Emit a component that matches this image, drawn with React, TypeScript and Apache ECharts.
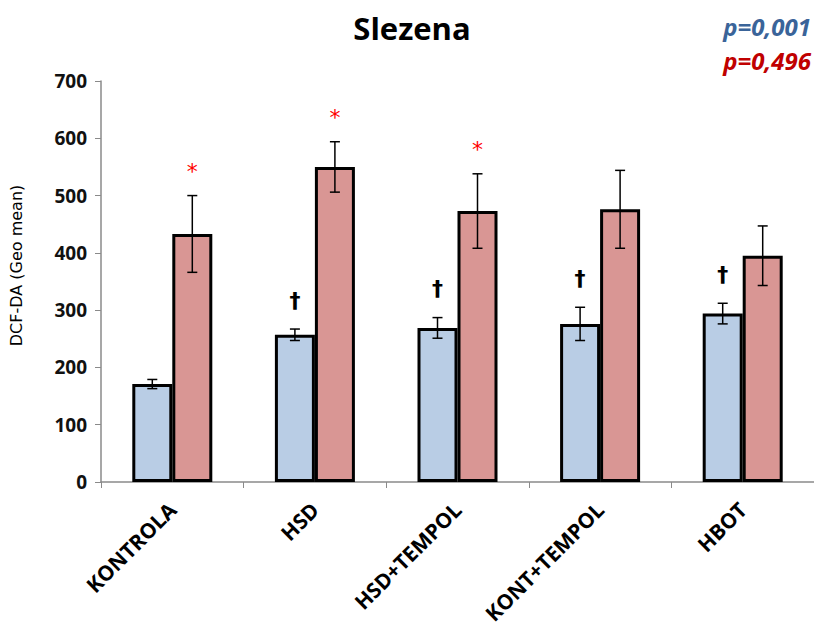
import React, { useEffect, useRef } from "react";
import * as echarts from "echarts";

const categories = ["KONTROLA", "HSD", "HSD+TEMPOL", "KONT+TEMPOL", "HBOT"];
const blueValues = [171, 257, 269, 276, 294];
const blueErrors = [8, 10, 18, 29, 18];
const redValues = [433, 550, 473, 476, 395];
const redErrors = [67, 44, 65, 68, 52];
const blueMarks = ["", "†", "†", "†", "†"];
const redMarks = ["*", "*", "*", "", ""];
const yTicks = [0, 100, 200, 300, 400, 500, 600, 700];

export default function App() {
  const ref = useRef<HTMLDivElement>(null);
  useEffect(() => {
    document.body.style.margin = "0";
    const chart = echarts.init(ref.current!, undefined, { renderer: "svg" });
    const errData: any[] = [];
    categories.forEach((_, i) => {
      errData.push([i, blueValues[i], blueErrors[i], -1, blueMarks[i]]);
      errData.push([i, redValues[i], redErrors[i], 1, redMarks[i]]);
    });
    const barW = 40;
    chart.setOption({
      animation: false,
      title: {
        text: "Slezena",
        left: 407,
        top: 7,
        textAlign: "center",
        textStyle: { fontFamily: "Open Sans", fontWeight: "bold", fontSize: 31, color: "#000" },
      },
      graphic: [
        {
          type: "text",
          right: 3,
          top: 14,
          style: { text: "p=0,001", fontFamily: "Open Sans", fontStyle: "italic", fontWeight: "bold", fontSize: 24, fill: "#3A6499" },
        },
        {
          type: "text",
          right: 3,
          top: 48,
          style: { text: "p=0,496", fontFamily: "Open Sans", fontStyle: "italic", fontWeight: "bold", fontSize: 24, fill: "#C00000" },
        },
      ],
      grid: { left: 99, top: 81, width: 720, height: 401 },
      xAxis: {
        type: "category",
        data: categories,
        axisLine: { lineStyle: { color: "#8a8a8a", width: 1.5 } },
        axisTick: { show: true, length: 6, lineStyle: { color: "#8a8a8a" } },
        axisLabel: {
          rotate: 45,
          margin: 24,
          interval: 0,
          fontFamily: "Open Sans",
          fontWeight: "bold",
          fontSize: 21,
          color: "#000",
        },
      },
      yAxis: {
        type: "value",
        min: 0,
        max: 700,
        interval: 100,
        name: "DCF-DA (Geo mean)",
        nameLocation: "middle",
        nameGap: 77,
        nameTextStyle: { fontFamily: "DejaVu Sans", fontSize: 16, color: "#000", padding: [0, 0, 0, 32] },
        axisLine: { show: true, lineStyle: { color: "#8a8a8a", width: 1.5 } },
        axisTick: { show: true, length: 6, lineStyle: { color: "#8a8a8a" } },
        splitLine: { show: false },
        axisLabel: {
          margin: 14,
          fontFamily: "Open Sans",
          fontWeight: "bold",
          fontSize: 19,
          color: "#111",
          formatter: (v: number) => (yTicks.includes(v) ? String(v) : ""),
        },
      },
      series: [
        {
          type: "bar",
          data: blueValues,
          barWidth: barW,
          barGap: "0%",
          itemStyle: { color: "#B9CDE5", borderColor: "#000", borderWidth: 3 },
        },
        {
          type: "bar",
          data: redValues,
          barWidth: barW,
          barGap: "0%",
          itemStyle: { color: "#D99694", borderColor: "#000", borderWidth: 3 },
        },
        {
          type: "custom",
          data: errData,
          z: 10,
          renderItem: (params: any, api: any) => {
            const idx = api.value(0);
            const mean = api.value(1);
            const err = api.value(2);
            const side = api.value(3);
            const raw = errData[params.dataIndex];
            const mark = raw[4];
            const c = api.coord([idx, mean]);
            const x = c[0] + (side * barW) / 2;
            const top = api.coord([idx, mean + err])[1];
            const bot = api.coord([idx, mean - err])[1];
            const cap = 5;
            const ls = { stroke: "#000", lineWidth: 1.5 };
            const children: any[] = [
              { type: "line", shape: { x1: x, y1: top, x2: x, y2: bot }, style: ls },
              { type: "line", shape: { x1: x - cap, y1: top, x2: x + cap, y2: top }, style: ls },
              { type: "line", shape: { x1: x - cap, y1: bot, x2: x + cap, y2: bot }, style: ls },
            ];
            if (mark) {
              const isStar = mark === "*";
              children.push({
                type: "text",
                x: x,
                y: top - (isStar ? 24 : 29),
                style: {
                  text: mark,
                  fill: isStar ? "#FF0000" : "#000",
                  fontFamily: "DejaVu Sans",
                  fontWeight: isStar ? "normal" : "bold",
                  fontSize: 22,
                  align: "center",
                  verticalAlign: "middle",
                },
              });
            }
            return { type: "group", children };
          },
        },
      ],
    });
    return () => chart.dispose();
  }, []);
  return <div ref={ref} style={{ width: 814, height: 633 }} />;
}
